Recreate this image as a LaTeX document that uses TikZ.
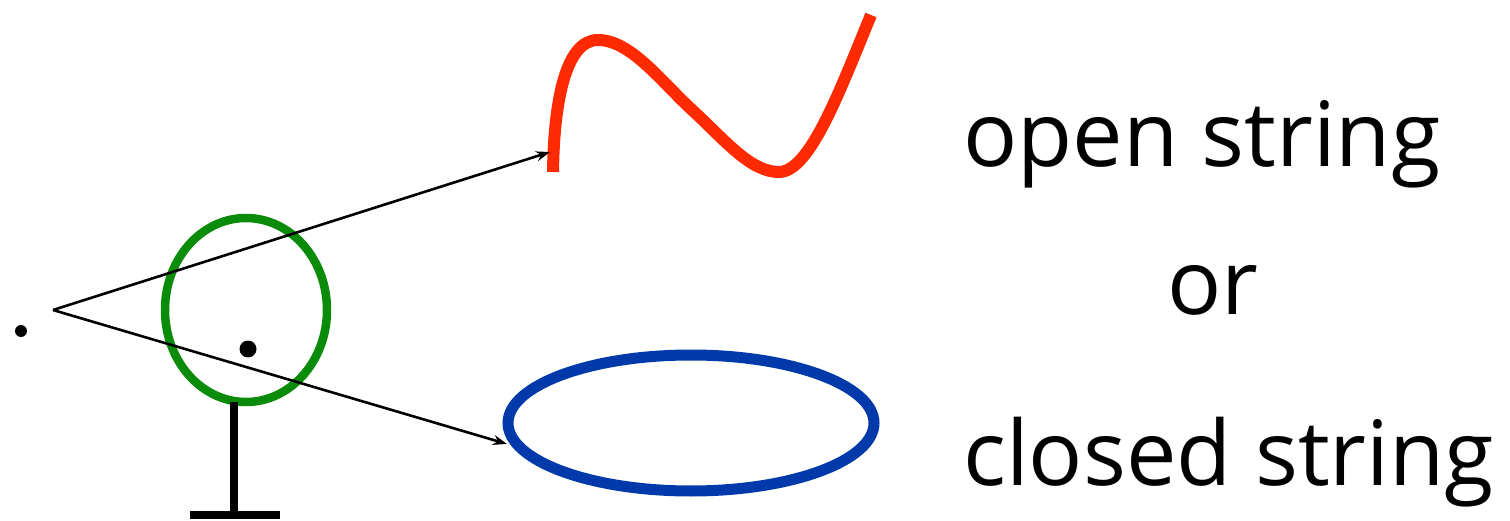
\documentclass[tikz,border=0pt]{standalone}
\usepackage{fontspec}
\setmainfont{Open Sans}
\usetikzlibrary{arrows.meta}
\definecolor{strred}{RGB}{255,42,0}
\definecolor{strblue}{RGB}{0,58,170}
\definecolor{strgreen}{RGB}{10,140,10}
\tikzset{
  ray/.style={line width=2.6pt, -{Stealth[length=14pt,width=10pt]}},
  label/.style={anchor=base west, inner sep=0pt, font=\fontsize{90}{100}\selectfont},
}
\begin{document}
\begin{tikzpicture}[x=1pt,y=-1pt]
\useasboundingbox (0,0) rectangle (1510,521);
% point source and observer
\fill (21,331) circle (6);
\coordinate (v) at (53,310);
% detector: ring on a stand
\draw[strgreen, line width=8.5pt] (246,310) ellipse (81 and 92);
\fill (248,349) circle (8.5);
\draw[line width=8pt] (234,402) -- (234,515);
\draw[line width=8pt] (190,515) -- (280,515);
% open string
\draw[strred, line width=12pt] (553,172) .. controls (554,100) and (566,40) .. (598,40)
  .. controls (630,40) and (660,80) .. (690,108)
  .. controls (725,140) and (750,172) .. (779,172)
  .. controls (810,172) and (840,90) .. (871,15);
% closed string
\draw[strblue, line width=11pt] (691,423) ellipse (183 and 68);
% rays
\coordinate (o) at (550,152);
\coordinate (c) at (507,444);
\draw[ray] (v) -- (o);
\draw[ray] (v) -- (c);
% labels
\node[label] (t1) at (963,167) {open string};
\node[label] (t2) at (1167,315) {or};
\node[label] (t3) at (963,485) {closed string};
\end{tikzpicture}
\end{document}
